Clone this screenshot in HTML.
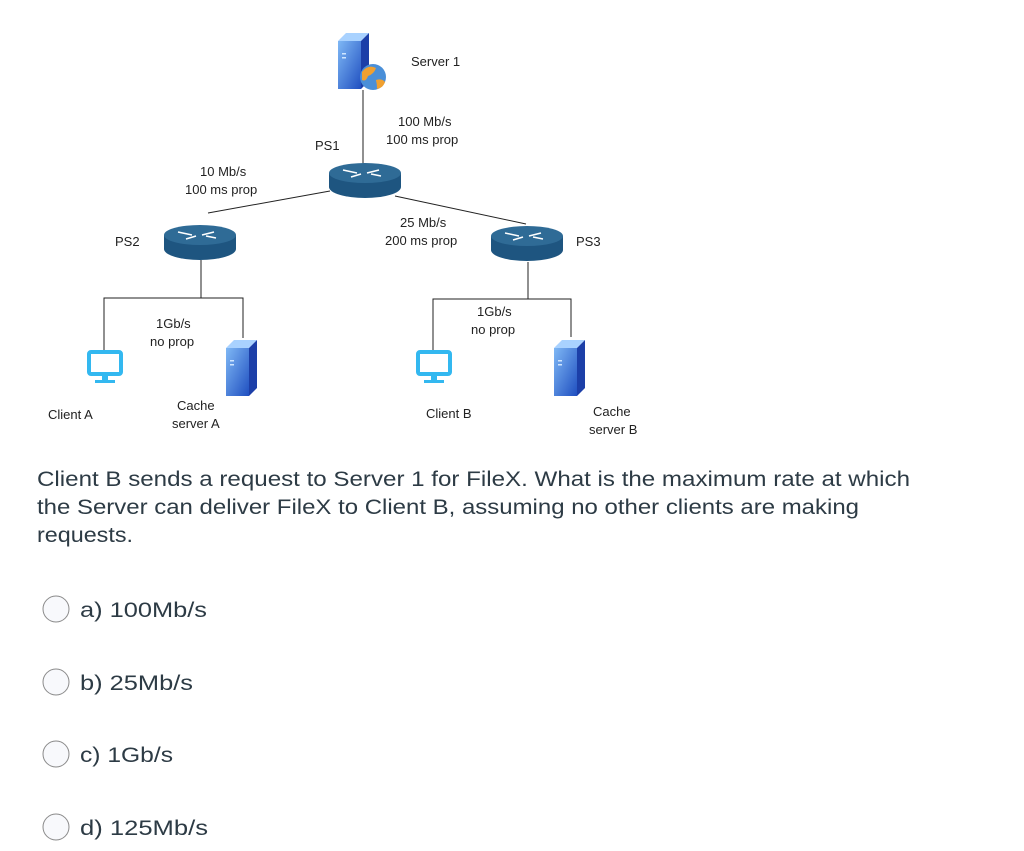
<!DOCTYPE html>
<html><head><meta charset="utf-8"><style>
html,body{margin:0;padding:0;background:#fff;}
svg{display:block;}
.l{font-family:"Liberation Sans",Arial,sans-serif;font-size:13px;fill:#222;}
.q{font-family:"Liberation Sans",Arial,sans-serif;font-size:21px;fill:#2d3b45;}
</style></head><body>
<svg width="1024" height="851" viewBox="0 0 1024 851" xmlns="http://www.w3.org/2000/svg">
<defs>
<linearGradient id="sv" x1="0" y1="0" x2="1" y2="1"><stop offset="0" stop-color="#7fb8f5"/><stop offset="1" stop-color="#1f4fc0"/></linearGradient>
<g id="router">
<path d="M0,10 L0,24 A36,11 0 0 0 72,24 L72,10 Z" fill="#1e5580"/>
<ellipse cx="36" cy="10" rx="36" ry="10" fill="#2f6b96"/>
<g stroke="#fff" stroke-width="1.5" fill="none">
<path d="M14,7 L28,10 M50,7 L38,10 M22,14 L32,11 M52,13 L42,11"/>
</g>
</g>
<g id="server">
<path d="M0,8 L8,0 L31,0 L23,8 Z" fill="#a9d2ff"/>
<path d="M23,8 L31,0 L31,48 L23,56 Z" fill="#1c3fa8"/>
<rect x="0" y="8" width="23" height="48" fill="url(#sv)"/>
<rect x="4" y="20" width="4" height="1.5" fill="#d0e6ff"/>
<rect x="4" y="24" width="4" height="1.5" fill="#d0e6ff"/>
</g>
<g id="mon">
<rect x="2" y="2" width="32" height="22" rx="2" fill="none" stroke="#33b8f0" stroke-width="4"/>
<rect x="15" y="24" width="6" height="6" fill="#33b8f0"/>
<rect x="8" y="30" width="20" height="3" fill="#33b8f0"/>
</g>
</defs>

<g stroke="#222" stroke-width="1" fill="none">
<line x1="363" y1="90" x2="363" y2="168"/>
<line x1="330" y1="191" x2="208" y2="213"/>
<line x1="395" y1="196" x2="526" y2="224"/>
<path d="M201,260 V298 M104,350 V298 H243 V338"/>
<path d="M528,262 V299 M433,350 V299 H571 V337"/>
</g>

<use href="#server" x="338" y="33"/>
<circle cx="373" cy="77" r="13" fill="#4a8fd8"/>
<path d="M362,72 q6,-8 14,-4 q-2,6 -8,8 q-2,6 -6,4 Z M376,80 q6,-2 9,2 q-2,6 -8,7 q0,-5 -1,-9 Z" fill="#f0a030"/>

<use href="#router" x="329" y="163"/>
<use href="#router" x="164" y="225"/>
<use href="#router" x="491" y="226"/>

<use href="#mon" x="87" y="350"/>
<use href="#server" x="226" y="340"/>
<use href="#mon" x="416" y="350"/>
<use href="#server" x="554" y="340"/>

<text class="l" x="411" y="66">Server 1</text>
<text class="l" x="398" y="126">100 Mb/s</text>
<text class="l" x="386" y="144">100 ms prop</text>
<text class="l" x="315" y="150">PS1</text>
<text class="l" x="200" y="176">10 Mb/s</text>
<text class="l" x="185" y="194">100 ms prop</text>
<text class="l" x="400" y="227">25 Mb/s</text>
<text class="l" x="385" y="245">200 ms prop</text>
<text class="l" x="115" y="246">PS2</text>
<text class="l" x="576" y="246">PS3</text>
<text class="l" x="156" y="328">1Gb/s</text>
<text class="l" x="150" y="346">no prop</text>
<text class="l" x="477" y="316">1Gb/s</text>
<text class="l" x="471" y="334">no prop</text>
<text class="l" x="48" y="419">Client A</text>
<text class="l" x="177" y="410">Cache</text>
<text class="l" x="172" y="428">server A</text>
<text class="l" x="426" y="418">Client B</text>
<text class="l" x="593" y="416">Cache</text>
<text class="l" x="589" y="434">server B</text>

<text class="q" x="37" y="486" textLength="873" lengthAdjust="spacingAndGlyphs">Client B sends a request to Server 1 for FileX. What is the maximum rate at which</text>
<text class="q" x="37" y="514" textLength="822" lengthAdjust="spacingAndGlyphs">the Server can deliver FileX to Client B, assuming no other clients are making</text>
<text class="q" x="37" y="542" textLength="96" lengthAdjust="spacingAndGlyphs">requests.</text>

<g fill="#f8f9fc" stroke="#8a8a8a" stroke-width="1">
<circle cx="56" cy="609" r="13"/>
<circle cx="56" cy="682" r="13"/>
<circle cx="56" cy="754" r="13"/>
<circle cx="56" cy="827" r="13"/>
</g>
<text class="q" x="80" y="617" textLength="127" lengthAdjust="spacingAndGlyphs">a) 100Mb/s</text>
<text class="q" x="80" y="690" textLength="113" lengthAdjust="spacingAndGlyphs">b) 25Mb/s</text>
<text class="q" x="80" y="762" textLength="93" lengthAdjust="spacingAndGlyphs">c) 1Gb/s</text>
<text class="q" x="80" y="835" textLength="128" lengthAdjust="spacingAndGlyphs">d) 125Mb/s</text>
</svg>
</body></html>
